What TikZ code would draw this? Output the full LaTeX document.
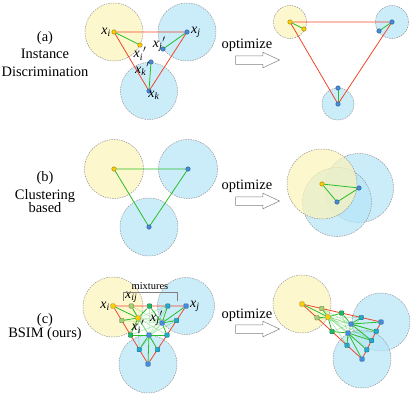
\documentclass[tikz,border=0pt]{standalone}
\usepackage{fontspec}
\setmainfont{Liberation Serif}
\usepackage{amsmath}
\usetikzlibrary{shapes.arrows, positioning, calc}

\definecolor{ballYellow}{RGB}{252,244,184}
\definecolor{ballBlue}{RGB}{181,229,248}
\definecolor{dotYellow}{RGB}{250,205,10}
\definecolor{dotBlue}{RGB}{70,140,220}
\definecolor{dotLime}{RGB}{165,205,115}
\definecolor{dotGreen}{RGB}{30,185,100}
\definecolor{dotTeal}{RGB}{35,170,200}
\definecolor{lineRed}{RGB}{240,70,40}
\definecolor{lineGreen}{RGB}{40,190,40}

\pgfdeclarelayer{balls}
\pgfdeclarelayer{edges}
\pgfsetlayers{balls,edges,main}

\newcommand{\xs}[1]{\textit{x}\textsubscript{\textit{#1}}}

\tikzset{
    ball/.style = {circle, draw=gray!85, dash pattern=on 1.5pt off 1pt, line width=0.5pt, fill opacity=0.7, inner sep=0pt},
    ballY/.style = {ball, fill=ballYellow},
    ballB/.style = {ball, fill=ballBlue},
    dot/.style = {circle, line width=0.4pt, inner sep=0pt, minimum size=4.5bp},
    dotY/.style = {dot, draw=dotYellow!60!black, fill=dotYellow},
    dotB/.style = {dot, draw=dotBlue!60!black, fill=dotBlue},
    mix/.style = {rectangle, rounded corners=0.8pt, line width=0.4pt, inner sep=0pt, minimum size=4.5bp},
    mixY/.style = {mix, draw=dotYellow!60!black, fill=dotYellow},
    mixB/.style = {mix, draw=dotBlue!60!black, fill=dotBlue},
    mixL/.style = {mix, draw=dotLime!60!black, fill=dotLime},
    mixG/.style = {mix, draw=dotGreen!60!black, fill=dotGreen},
    mixT/.style = {mix, draw=dotTeal!60!black, fill=dotTeal},
    red edge/.style = {lineRed, line width=0.8pt},
    pos edge/.style = {lineGreen, line width=0.8pt},
    soft edge/.style = {lineGreen, line width=0.6pt, opacity=0.35},
    lbl/.style = {inner sep=0.5pt, font=\fontsize{14}{16}\selectfont},
    txt/.style = {align=center, inner sep=0pt, font=\fontsize{14.5}{18}\selectfont},
    optarrow/.style = {single arrow, draw=gray, fill=white, line width=0.5pt, minimum height=44bp, inner xsep=0pt, inner ysep=4bp, single arrow head extend=3.5bp, single arrow tip angle=50}
}

\begin{document}
\begin{tikzpicture}[x=1bp, y=-1bp]
\useasboundingbox (0,0) rectangle (415,395);

% --- (a) INSTANCE DISCRIMINATION ---
\node (title_a) [txt] at (45,54) {(a)\\Instance\\Discrimination};

\node (ai) [dotY] at (114,32) {};
\node (aip) [dotY] at (140,45) {};
\node (aj) [dotB] at (187,32) {};
\node (ajp) [dotB] at (163,49) {};
\node (ak) [dotB] at (149,91) {};
\node (akp) [dotB] at (151,62) {};

\node (lbl_ai) [lbl, left=0pt of ai] {\xs{i}};
\node (lbl_aip) [lbl, below=-1bp of aip] {\xs{i}$'$};
\node (lbl_aj) [lbl, right=1pt of aj] {\xs{j}};
\node (lbl_ajp) [lbl, above left=-5bp and -5bp of ajp] {\xs{j}$'$};
\node (lbl_ak) [lbl, below right=-2bp and -3bp of ak] {\xs{k}};
\node (lbl_akp) [lbl, below left=-2bp and -1bp of akp] {\xs{k}$'$};

\node (opt_a) [optarrow] at (253,60) {};
\node (txt_a) [txt] at (247,45) {optimize};

\node (ri) [dotY] at (290,22) {};
\node (rip) [dotY] at (304,29) {};
\node (rj) [dotB] at (392,22) {};
\node (rjp) [dotB] at (379,31) {};
\node (rk) [dotB] at (338,104) {};
\node (rkp) [dotB] at (338,88) {};

\begin{pgfonlayer}{balls}
    \node (ball_ai) [ballY, minimum size=58bp] at (ai) {};
    \node (ball_aj) [ballB, minimum size=58bp] at (aj) {};
    \node (ball_ak) [ballB, minimum size=57bp] at (ak) {};
    \node (ball_ri) [ballY, minimum size=33bp] at (ri) {};
    \node (ball_rj) [ballB, minimum size=33bp] at (rj) {};
    \node (ball_rk) [ballB, minimum size=32bp] at (rk) {};
\end{pgfonlayer}

\begin{pgfonlayer}{edges}
    \draw [red edge] (ai) -- (aj) -- (ak) -- (ai);
    \draw [pos edge] (ai) -- (aip);
    \draw [pos edge] (aj) -- (ajp);
    \draw [pos edge] (ak) -- (akp);
    \draw [red edge] (ri) -- (rj) -- (rk) -- (ri);
    \draw [pos edge] (ri) -- (rip);
    \draw [pos edge] (rj) -- (rjp);
    \draw [pos edge] (rk) -- (rkp);
\end{pgfonlayer}

% --- (b) CLUSTERING BASED ---
\node (title_b) [txt] at (45,192) {(b)\\[1bp]Clustering\\[-5bp]based};

\node (bi) [dotY] at (114,169) {};
\node (bj) [dotB] at (188,169) {};
\node (bk) [dotB] at (149,227) {};

\node (opt_b) [optarrow] at (253,201) {};
\node (txt_b) [txt] at (247,186) {optimize};

\node (qi) [dotY] at (322,184) {};
\node (qj) [dotB] at (359,188) {};
\node (qk) [dotB] at (337,202) {};

\begin{pgfonlayer}{balls}
    \node (ball_bi) [ballY, minimum size=59bp] at (bi) {};
    \node (ball_bj) [ballB, minimum size=59bp] at (bj) {};
    \node (ball_bk) [ballB, minimum size=58bp] at (bk) {};
    \node (ball_qj) [ballB, minimum size=69bp] at (qj) {};
    \node (ball_qk) [ballB, minimum size=69bp] at (qk) {};
    \node (ball_qi) [ballY, minimum size=70bp] at (qi) {};
\end{pgfonlayer}

\begin{pgfonlayer}{edges}
    \draw [pos edge] (bi) -- (bj) -- (bk) -- (bi);
    \draw [pos edge] (qi) -- (qj) -- (qk) -- (qi);
\end{pgfonlayer}

% --- (c) BSIM ---
\node (title_c) [txt] at (45,327) {(c)\\[-3bp]BSIM (ours)};

\node (ci) [mixY] at (113,306) {};
\node (cj) [mixB] at (186,306) {};
\node (ck) [mixB] at (148,364) {};
\node (cip) [mixY] at (138,318) {};
\node (cjp) [mixB] at (162,323) {};
\node (ckp) [mixB] at (149,335) {};

\node (opt_c) [optarrow] at (253,329) {};
\node (txt_c) [txt] at (247,315) {optimize};

\node (di) [mixY] at (302,304) {};
\node (dj) [mixB] at (381,322) {};
\node (dk) [mixB] at (362,359) {};
\node (dip) [mixY] at (328,317) {};
\node (djp) [mixB] at (351,324) {};
\node (dkp) [mixB] at (348,333) {};

\begin{pgfonlayer}{balls}
    \node (ball_ci) [ballY, minimum size=60bp] at (113,307) {};
    \node (ball_cj) [ballB, minimum size=57bp] at (cj) {};
    \node (ball_ck) [ballB, minimum size=58bp] at (ck) {};
    \node (ball_di) [ballY, minimum size=58bp] at (di) {};
    \node (ball_dj) [ballB, minimum size=58bp] at (dj) {};
    \node (ball_dk) [ballB, minimum size=58bp] at (dk) {};
\end{pgfonlayer}

% mixtures on the three sides, then the positive / soft pairs
\foreach \p in {c,d} {
    \foreach \t/\n/\s in {0.25/1/mixL, 0.5/2/mixG, 0.75/3/mixT} {
        \node (\p ij\n) [\s] at ($(\p i)!\t!(\p j)$) {};
        \node (\p ik\n) [\s] at ($(\p i)!\t!(\p k)$) {};
        \node (\p jk\n) [mixT] at ($(\p j)!\t!(\p k)$) {};
    }
    \begin{pgfonlayer}{edges}
        \draw [red edge] (\p i) -- (\p j) -- (\p k) -- (\p i);
        \foreach \a/\b in {ip/ij3, ip/ik3, ip/jk1, ip/jk2, ip/jk3, jp/ij1, jp/ik1, jp/ik2, jp/ik3, kp/ij1, kp/ij2, kp/ij3, kp/jk1, ip/jp, jp/kp, kp/ip}
            \draw [soft edge] (\p\a) -- (\p\b);
        \foreach \a/\b in {i/ip, ip/ij1, ip/ij2, ip/ik1, ip/ik2, j/jp, jp/ij2, jp/ij3, jp/jk1, jp/jk2, k/kp, kp/ik2, kp/ik3, kp/jk2, kp/jk3}
            \draw [pos edge] (\p\a) -- (\p\b);
    \end{pgfonlayer}
}

\node (lbl_ci) [lbl, left=0pt of ci] {\xs{i}};
\node (lbl_cj) [lbl, right=1pt of cj] {\xs{j}};
\node (lbl_cij) [lbl, above=0pt of cij1] {\xs{ij}};
\node (lbl_cip) [lbl, below=-1bp of cip] {\xs{i}$'$};
\node (lbl_cjp) [lbl, above left=-6bp and -4bp of cjp] {\xs{j}$'$};

\coordinate (mix_l) at (123,301);
\coordinate (mix_r) at (177,301);
\draw [gray, line width=0.6pt] (mix_l) -- ++(0,-9) -| (mix_r);
\node (lbl_mix) [inner sep=0pt, font=\fontsize{10.5}{12}\selectfont] at (150,286) {mixtures};

\end{tikzpicture}
\end{document}
